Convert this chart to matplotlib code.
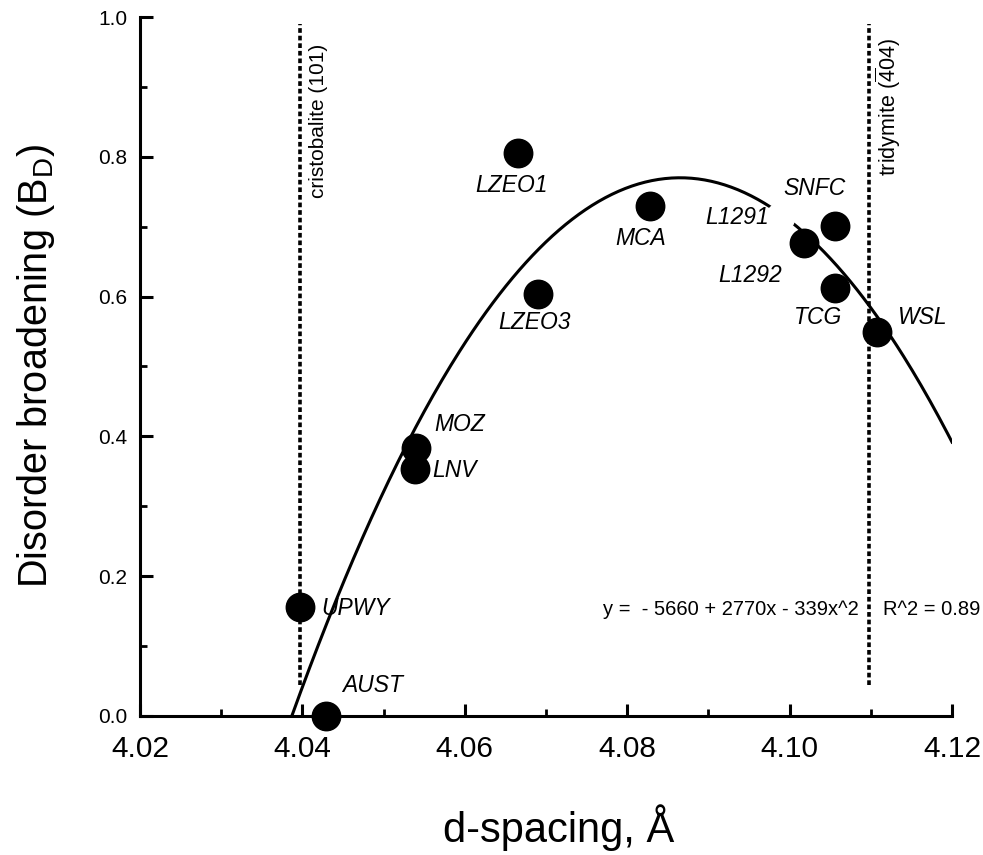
import numpy as np
import matplotlib
matplotlib.use("Agg")
import matplotlib.pyplot as plt
from matplotlib.ticker import MultipleLocator

plt.rcParams['font.family'] = ['Liberation Sans', 'DejaVu Sans']
plt.rcParams['mathtext.fontset'] = 'custom'
plt.rcParams['mathtext.rm'] = 'Liberation Sans'
plt.rcParams['mathtext.it'] = 'Liberation Sans:italic'

# samples: d-spacing (A) and disorder broadening B_D
names = ["UPWY", "AUST", "MOZ", "LNV", "LZEO1", "LZEO3", "MCA",
         "SNFC", "L1292", "TCG", "WSL"]
d_spacing = [4.0397, 4.0429, 4.0540, 4.0539, 4.0666, 4.0690, 4.0828,
             4.1056, 4.1018, 4.1056, 4.1108]
b_d = [0.156, 0.000, 0.384, 0.354, 0.806, 0.604, 0.730,
       0.701, 0.676, 0.613, 0.549]

# L1291 drawn as a white (hidden) point on the curve
l1291_x, l1291_y = 4.0988, 0.714

# label centres (data coords)
label_x = [4.0465, 4.0486, 4.0594, 4.0587, 4.0658, 4.0686, 4.0816,
           4.1031, 4.0952, 4.1035, 4.1163]
label_y = [0.154, 0.044, 0.417, 0.351, 0.759, 0.563, 0.683,
           0.754, 0.630, 0.570, 0.570]
l1291_lx, l1291_ly = 4.0935, 0.713

# quadratic fit, vertex form
fit_peak_x = 4.0865
fit_peak_y = 0.770
fit_curv = 337.0
fit_x0 = 4.0387
fit_x1 = 4.12

# reference reflections
cristobalite_d = 4.0397
tridymite_d = 4.1098
ref_ymin, ref_ymax = 0.045, 0.99

fig = plt.figure(figsize=(9.83, 8.55), dpi=100)
ax = fig.add_axes([0.1424, 0.1626, 0.8261, 0.8175])

xc = np.linspace(fit_x0, fit_x1, 300)
yc = fit_peak_y - fit_curv * (xc - fit_peak_x) ** 2
ax.plot(xc, yc, color='black', lw=2.2, zorder=2)

ls = (0, (1.3, 0.8))
ax.plot([cristobalite_d, cristobalite_d], [ref_ymin, ref_ymax], color='black',
        lw=2.6, linestyle=ls, zorder=1)
ax.plot([tridymite_d, tridymite_d], [ref_ymin, ref_ymax], color='black',
        lw=2.6, linestyle=ls, zorder=1)

ax.scatter(d_spacing, b_d, s=420, color='black', zorder=4, clip_on=False)
ax.scatter([l1291_x], [l1291_y], s=420, color='white', zorder=3)

for n, lx, ly in zip(names, label_x, label_y):
    ax.text(lx, ly, n, fontsize=16.5, style='italic', ha='center', va='center')
ax.text(l1291_lx, l1291_ly, "L1291", fontsize=16.5, style='italic',
        ha='center', va='center')

ax.text(4.0420, 0.851, "cristobalite (101)", rotation=90, fontsize=15,
        ha='center', va='center')
ax.text(4.1122, 0.871, r"tridymite ($\overline{\mathrm{4}}$04)", rotation=90,
        fontsize=15.5, ha='center', va='center')

ax.text(4.0770, 0.153, "y =  - 5660 + 2770x - 339x^2", fontsize=14.5,
        ha='left', va='center')
ax.text(4.1115, 0.153, "R^2 = 0.89", fontsize=14.5, ha='left', va='center')

ax.set_xlim(4.02, 4.12)
ax.set_ylim(0, 1.0)
ax.set_xticks([4.02, 4.04, 4.06, 4.08, 4.10, 4.12])
ax.set_xticklabels(["4.02", "4.04", "4.06", "4.08", "4.10", "4.12"])
ax.set_yticks([0.0, 0.2, 0.4, 0.6, 0.8, 1.0])
ax.set_yticklabels(["0.0", "0.2", "0.4", "0.6", "0.8", "1.0"])
ax.xaxis.set_minor_locator(MultipleLocator(0.01))
ax.yaxis.set_minor_locator(MultipleLocator(0.1))

for s in ['top', 'right']:
    ax.spines[s].set_visible(False)
for s in ['left', 'bottom']:
    ax.spines[s].set_linewidth(2.2)

ax.tick_params(which='major', direction='in', length=9, width=2.2)
ax.tick_params(which='minor', direction='in', length=5, width=2)
ax.tick_params(axis='x', labelsize=21.5, pad=14)
ax.tick_params(axis='y', labelsize=15, pad=9)

ax.set_xlabel("d-spacing, Å", fontsize=30, va='center')
ax.xaxis.set_label_coords(0.515, -0.160)
ax.set_ylabel("Disorder broadening (B$_\\mathrm{D}$)", fontsize=28.5, labelpad=30)

fig.savefig("out.png", dpi=100)
